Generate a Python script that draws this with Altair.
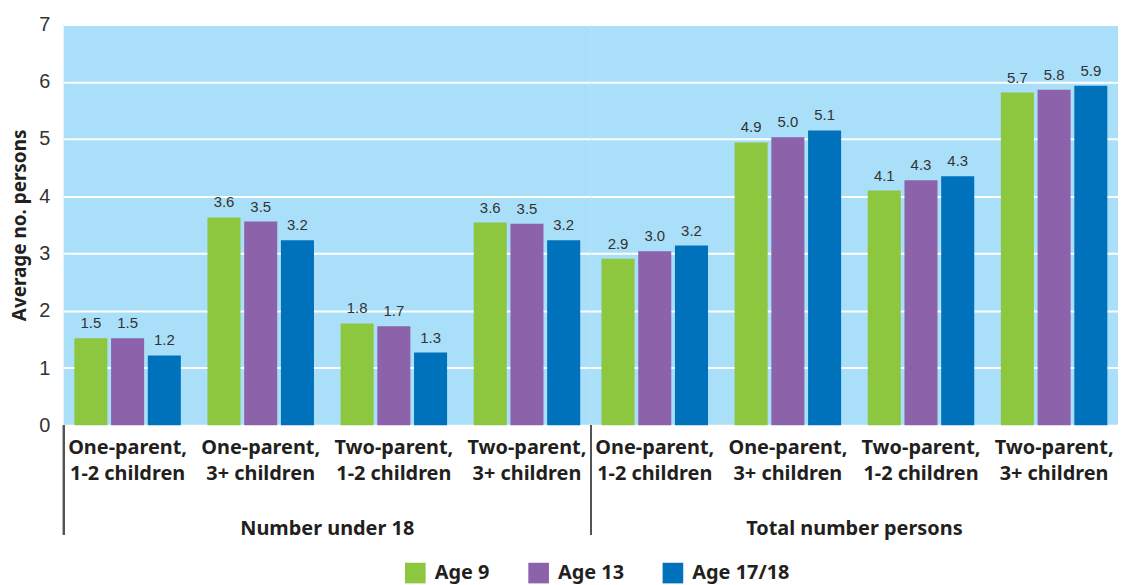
import altair as alt
import pandas as pd

groups = ["Number under 18", "Total number persons"]
categories = ["One-parent,|1-2 children", "One-parent,|3+ children",
              "Two-parent,|1-2 children", "Two-parent,|3+ children"]
ages = ["Age 9", "Age 13", "Age 17/18"]
colors = ["#8dc63f", "#8c62aa", "#0072bc"]

# bar heights
under18_age9 = [1.52, 3.63, 1.78, 3.54]
under18_age13 = [1.52, 3.56, 1.73, 3.52]
under18_age17 = [1.22, 3.23, 1.27, 3.23]
total_age9 = [2.91, 4.94, 4.10, 5.81]
total_age13 = [3.04, 5.03, 4.28, 5.86]
total_age17 = [3.14, 5.15, 4.35, 5.93]

# printed labels
under18_lab9 = ["1.5", "3.6", "1.8", "3.6"]
under18_lab13 = ["1.5", "3.5", "1.7", "3.5"]
under18_lab17 = ["1.2", "3.2", "1.3", "3.2"]
total_lab9 = ["2.9", "4.9", "4.1", "5.7"]
total_lab13 = ["3.0", "5.0", "4.3", "5.8"]
total_lab17 = ["3.2", "5.1", "4.3", "5.9"]

series = {
    groups[0]: [(under18_age9, under18_lab9), (under18_age13, under18_lab13), (under18_age17, under18_lab17)],
    groups[1]: [(total_age9, total_lab9), (total_age13, total_lab13), (total_age17, total_lab17)],
}
rows = []
for g in groups:
    for ai, (vals, labs) in enumerate(series[g]):
        for ci, c in enumerate(categories):
            rows.append({"group": g, "category": c, "age": ages[ai],
                         "value": vals[ci], "label": labs[ci]})
df = pd.DataFrame(rows)

W = 530
H = 403

x_enc = alt.X("category:N", sort=categories,
              scale=alt.Scale(paddingInner=0.2, paddingOuter=0.08),
              axis=alt.Axis(title=None, labelExpr="split(datum.label, '|')",
                            labelAngle=0, domain=False, ticks=False,
                            labelFont="Noto Sans", labelFontWeight="bold",
                            labelFontSize=20, labelColor="#231f20",
                            labelPadding=12, labelLineHeight=26,
                            labelBaseline="top"))
xo_enc = alt.XOffset("age:N", sort=ages, scale=alt.Scale(paddingInner=0.1))
y_enc = alt.Y("value:Q", scale=alt.Scale(domain=[0, 7], nice=False),
              axis=alt.Axis(values=[0, 1, 2, 3, 4, 5, 6, 7], format="d",
                            title="Average no. persons", grid=True,
                            gridColor="white", gridWidth=2, domain=False,
                            ticks=False, labelFont="Liberation Sans",
                            labelFontSize=20, labelColor="#333333",
                            labelPadding=14, titleFont="Noto Sans",
                            titleFontWeight="bold", titleFontSize=19,
                            titleColor="#231f20", titlePadding=9))

bars = alt.Chart().mark_bar().encode(
    x=x_enc, xOffset=xo_enc, y=y_enc,
    color=alt.Color("age:N", sort=ages,
                    scale=alt.Scale(domain=ages, range=colors),
                    legend=alt.Legend(title=None, orient="none",
                                      direction="horizontal",
                                      legendX=343, legendY=541,
                                      symbolType="square", symbolSize=430,
                                      symbolStrokeWidth=0,
                                      labelFont="Noto Sans",
                                      labelFontWeight="bold",
                                      labelFontSize=20, labelColor="#231f20",
                                      columnPadding=38, labelOffset=9)),
)
text = alt.Chart().mark_text(baseline="bottom", dy=-7, font="Liberation Sans",
                             fontSize=15, color="#333333").encode(
    x=alt.X("category:N", sort=categories), xOffset=xo_enc,
    y=alt.Y("value:Q"), text="label:N")
rule = alt.Chart().mark_rule(color="#555555", strokeWidth=1.5).encode(
    x=alt.value(0), y=alt.value(H), y2=alt.value(H + 110))

layer = alt.layer(bars, text, rule, data=df).properties(width=W, height=H)

chart = layer.facet(
    column=alt.Column("group:N", sort=groups,
                      header=alt.Header(title=None, labelOrient="bottom",
                                        labelFont="Noto Sans",
                                        labelFontWeight="bold",
                                        labelFontSize=20,
                                        labelColor="#231f20",
                                        labelPadding=36)),
    spacing=0,
    bounds="flush",
).properties(
    padding={"top": 5, "left": 2, "right": 0, "bottom": 0}
).configure_view(fill="#a9dff8", stroke=None, strokeWidth=0)

chart.save("out.html", embed_options={"renderer": "svg", "actions": False})
